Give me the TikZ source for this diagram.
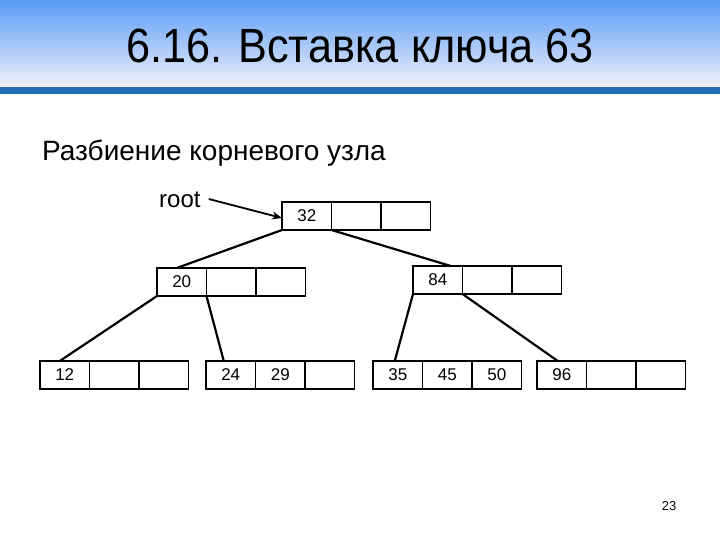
\documentclass[tikz,border=0pt]{standalone}
\usepackage{fontspec}
\setmainfont{Liberation Sans}
\usetikzlibrary{arrows.meta}
\definecolor{hdtop}{RGB}{90,155,245}
\definecolor{hdbot}{RGB}{238,240,250}
\definecolor{hdline}{RGB}{30,110,180}
\begin{document}
\begin{tikzpicture}[x=1pt,y=-1pt,
  cell/.style={draw,line width=1.6pt,outer sep=0pt,minimum width=49.5pt,minimum height=28pt,inner sep=0pt,font=\fontsize{17}{17}\selectfont,anchor=north west},
  edge/.style={line width=2.2pt}]
\useasboundingbox (0,0) rectangle (720,540);
\fill[white] (0,0) rectangle (720,540);
\shade[top color=hdtop,bottom color=hdbot] (0,0) rectangle (720,86);
\fill[hdline] (0,87) rectangle (720,94);
\node[font=\fontsize{48}{48}\selectfont,xscale=0.9] (title) at (360,46) {6.16. Вставка ключа 63};
\node[font=\fontsize{28}{28}\selectfont,anchor=west,inner sep=0pt] (sub) at (42,153) {Разбиение корневого узла};
\node[font=\fontsize{24}{24}\selectfont,anchor=west,inner sep=0pt] (rootl) at (159,200) {root};
% root
\node[cell] (r1) at (282,202) {32};
\node[cell] (r2) at (r1.north east) {};
\node[cell] (r3) at (r2.north east) {};
% level 1
\node[cell] (a1) at (157,268) {20};
\node[cell] (a2) at (a1.north east) {};
\node[cell] (a3) at (a2.north east) {};
\node[cell] (b1) at (413,266) {84};
\node[cell] (b2) at (b1.north east) {};
\node[cell] (b3) at (b2.north east) {};
% leaves
\node[cell] (c1) at (40,361) {12};
\node[cell] (c2) at (c1.north east) {};
\node[cell] (c3) at (c2.north east) {};
\node[cell] (d1) at (206,361) {24};
\node[cell] (d2) at (d1.north east) {29};
\node[cell] (d3) at (d2.north east) {};
\node[cell] (e1) at (373,361) {35};
\node[cell] (e2) at (e1.north east) {45};
\node[cell] (e3) at (e2.north east) {50};
\node[cell] (f1) at (537,361) {96};
\node[cell] (f2) at (f1.north east) {};
\node[cell] (f3) at (f2.north east) {};
\draw[line width=1.8pt,-{Stealth[length=10pt,width=8pt]}] ([xshift=8pt,yshift=1pt]rootl.east) -- ([yshift=-2pt]r1.west);
\draw[edge] (r1.south west) -- ([xshift=-5pt]a1.north);
\draw[edge] (r1.south east) -- ([xshift=13pt]b1.north);
\draw[edge] (a1.south west) -- ([xshift=-5pt]c1.north);
\draw[edge] (a1.south east) -- ([xshift=-7pt]d1.north);
\draw[edge] (b1.south west) -- ([xshift=-3pt]e1.north);
\draw[edge] (b1.south east) -- ([xshift=-4pt]f1.north);
\node[font=\fontsize{13}{13}\selectfont] (pg) at (669,506) {23};
\end{tikzpicture}
\end{document}
